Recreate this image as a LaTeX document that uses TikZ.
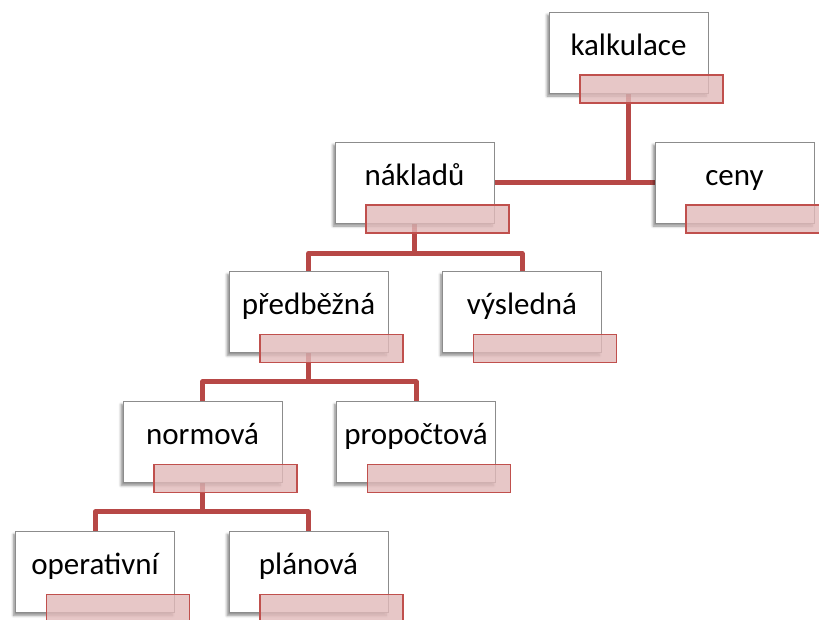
\documentclass[tikz,border=0pt]{standalone}
\usepackage{fontspec}
\setmainfont{Carlito}
\usetikzlibrary{shadows,shadows.blur}
\definecolor{boxline}{RGB}{140,140,140}
\definecolor{lblline}{RGB}{192,80,77}
\definecolor{lblfill}{RGB}{225,185,185}
\definecolor{conn}{RGB}{183,72,70}
\pgfdeclarelayer{bg}
\pgfsetlayers{bg,main}
\tikzset{
  orgbox/.style={draw=boxline, line width=0.8pt, fill=white, rectangle,
    minimum width=159pt, minimum height=81pt, inner sep=0pt,
    text height=22pt, text depth=17pt,
    font=\fontsize{31}{37}\selectfont,
    blur shadow={shadow xshift=-2pt, shadow yshift=-3pt, shadow blur steps=6,
      shadow blur radius=2.5pt, shadow opacity=45}},
  lblbox/.style={draw=lblline, line width=1.3pt, fill=lblfill, fill opacity=0.8,
    rectangle, minimum width=143pt, minimum height=28pt, inner sep=0pt},
  link/.style={draw=conn, line width=5pt, line join=round}
}
\begin{document}
\begin{tikzpicture}[x=1pt,y=-1pt]
\useasboundingbox (0,0) rectangle (819,619);
% boxes
\node[orgbox] (kalk) at (628.5,52.5) {kalkulace};
\node[orgbox] (nak)  at (414.5,182.5) {nákladů};
\node[orgbox] (ceny) at (734.5,182.5) {ceny};
\node[orgbox] (pred) at (308.5,312) {předběžná};
\node[orgbox] (vys)  at (522,312) {výsledná};
\node[orgbox] (norm) at (202.5,442) {normová};
\node[orgbox] (prop) at (416,442) {propočtová};
\node[orgbox] (oper) at (95,572) {operativní};
\node[orgbox] (plan) at (308.5,572) {plánová};
% label boxes
\foreach \n in {kalk,nak,ceny,pred,vys,norm,prop,oper,plan}{
  \node[lblbox] (\n L) at ([shift={(23,36.5)}]\n.center) {};
}
% connectors
\begin{pgfonlayer}{bg}
\draw[link] (kalk.south) -- (kalk.south |- nak.east);
\draw[link] (nak.east) -- (ceny.west);
\draw[link] (nak.south) -- ++(0,30) -| (pred.north);
\draw[link] (nak.south) -- ++(0,30) -| (vys.north);
\draw[link] (pred.south) -- ++(0,29) -| (norm.north);
\draw[link] (pred.south) -- ++(0,29) -| (prop.north);
\draw[link] (norm.south) -- ++(0,29) -| (oper.north);
\draw[link] (norm.south) -- ++(0,29) -| (plan.north);
\end{pgfonlayer}
\end{tikzpicture}
\end{document}
